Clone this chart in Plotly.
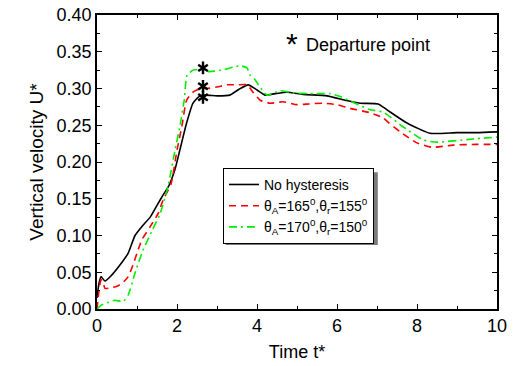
import plotly.graph_objects as go

# ---------------- data ----------------
t_black = [0, 0.05, 0.1, 0.2, 0.35, 0.52, 0.78, 0.95, 1.15, 1.33, 1.5, 1.65, 1.8, 1.95, 2.07,
           2.24, 2.4, 2.55, 2.7, 3.0, 3.32, 3.55, 3.78, 4.0, 4.2, 4.45, 4.75, 5.15, 5.75, 6.2,
           6.58, 7.03, 7.25, 7.75, 8.33, 9.0, 9.5, 10.0]
v_black = [0.015, 0.035, 0.044, 0.038, 0.045, 0.056, 0.076, 0.100, 0.114, 0.125, 0.141, 0.155,
           0.168, 0.190, 0.216, 0.253, 0.280, 0.289, 0.291, 0.290, 0.291, 0.299, 0.305, 0.298,
           0.291, 0.293, 0.295, 0.292, 0.290, 0.284, 0.280, 0.279, 0.271, 0.253, 0.239, 0.240,
           0.240, 0.241]

t_red = [0, 0.05, 0.1, 0.15, 0.2, 0.35, 0.5, 0.63, 0.78, 0.9, 1.0, 1.12, 1.33, 1.53, 1.65, 1.85,
         2.0, 2.12, 2.24, 2.4, 2.58, 2.75, 3.0, 3.25, 3.5, 3.75, 3.9, 4.08, 4.33, 4.65, 5.0, 5.3,
         5.65, 6.0, 6.33, 6.83, 7.15, 7.3, 7.58, 8.0, 8.38, 8.9, 9.5, 10.0]
v_red = [0.0, 0.025, 0.040, 0.037, 0.028, 0.029, 0.031, 0.035, 0.044, 0.060, 0.076, 0.094, 0.112,
         0.130, 0.148, 0.170, 0.216, 0.248, 0.284, 0.295, 0.300, 0.300, 0.302, 0.305, 0.305,
         0.305, 0.295, 0.284, 0.280, 0.282, 0.278, 0.279, 0.280, 0.278, 0.273, 0.267, 0.260,
         0.253, 0.241, 0.226, 0.220, 0.223, 0.224, 0.224]

t_green = [0, 0.1, 0.28, 0.45, 0.65, 0.78, 0.95, 1.15, 1.38, 1.58, 1.78, 1.95, 2.07, 2.18, 2.25,
           2.4, 2.6, 2.8, 3.0, 3.2, 3.4, 3.58, 3.75, 3.83, 3.95, 4.1, 4.25, 4.58, 4.9, 5.4, 5.83,
           6.08, 6.45, 6.83, 7.15, 7.65, 8.15, 8.5, 9.33, 10.0]
v_green = [0.0, 0.005, 0.009, 0.012, 0.010, 0.019, 0.049, 0.080, 0.107, 0.130, 0.168, 0.216,
           0.248, 0.284, 0.318, 0.325, 0.326, 0.323, 0.324, 0.326, 0.329, 0.331, 0.328, 0.318,
           0.312, 0.300, 0.291, 0.297, 0.294, 0.293, 0.293, 0.289, 0.280, 0.271, 0.268, 0.248,
           0.230, 0.227, 0.231, 0.234]

# departure points (t*, U*)
t_dep = [2.65, 2.65, 2.65]
v_dep = [0.328, 0.303, 0.288]

x_ticks = [0, 2, 4, 6, 8, 10]
y_ticks = [0.00, 0.05, 0.10, 0.15, 0.20, 0.25, 0.30, 0.35, 0.40]

names = ["No hysteresis",
         "θ<sub>A</sub>=165<sup>0</sup>,θ<sub>r</sub>=155<sup>0</sup>",
         "θ<sub>A</sub>=170<sup>0</sup>,θ<sub>r</sub>=150<sup>0</sup>"]

FONT = "Liberation Sans, Arial, sans-serif"

fig = go.Figure()
fig.add_trace(go.Scatter(x=t_black, y=v_black, mode="lines", name=names[0],
                         line=dict(color="black", width=1.6, shape="spline", smoothing=0.5)))
fig.add_trace(go.Scatter(x=t_red, y=v_red, mode="lines", name=names[1],
                         line=dict(color="#ff0000", width=1.6, dash="7px,5px",
                                   shape="spline", smoothing=0.5)))
fig.add_trace(go.Scatter(x=t_green, y=v_green, mode="lines", name=names[2],
                         line=dict(color="#00ee00", width=1.6, dash="8px,4px,2px,4px",
                                   shape="spline", smoothing=0.5)))
for sym in ["y-up-open", "y-down-open"]:
    fig.add_trace(go.Scatter(x=t_dep, y=v_dep, mode="markers", showlegend=False,
                             marker=dict(symbol=sym, size=8, color="black",
                                         line=dict(color="black", width=2.4))))

axis_common = dict(showline=True, linecolor="black", linewidth=1.6, mirror="allticks",
                   ticks="inside", ticklen=5, tickwidth=1.4, tickcolor="black",
                   showgrid=False, zeroline=False, automargin=False,
                   tickfont=dict(family=FONT, size=18, color="black"))

fig.update_xaxes(range=[0, 10], tickvals=x_ticks,
                 minor=dict(dtick=1, ticks="inside", ticklen=3, tickcolor="black", tickwidth=1.2),
                 title=dict(text="Time t*", font=dict(family=FONT, size=18, color="black"),
                            standoff=10),
                 **axis_common)
fig.update_yaxes(range=[0, 0.40], tickvals=y_ticks, tickformat=".2f",
                 minor=dict(dtick=0.025, ticks="inside", ticklen=3, tickcolor="black", tickwidth=1.2),
                 title=dict(text="Vertical velocity U*", font=dict(family=FONT, size=19, color="black"),
                            standoff=8),
                 **axis_common)

fig.add_annotation(xref="paper", yref="paper", x=0.487, y=0.93, xanchor="center", yanchor="middle",
                   text="*", showarrow=False, font=dict(family=FONT, size=30, color="black"),
                   yshift=-8)
fig.add_annotation(xref="paper", yref="paper", x=0.518, y=0.898, xanchor="left", yanchor="middle",
                   text="Departure point", showarrow=False,
                   font=dict(family=FONT, size=18, color="black"))

# legend drop shadow
fig.add_shape(type="rect", xref="paper", yref="paper", x0=0.322, x1=0.702, y0=0.218, y1=0.465,
              fillcolor="#7a7a7a", line=dict(width=0), layer="above")

fig.update_layout(
    width=514, height=366,
    margin=dict(l=97, r=17, t=15, b=57, autoexpand=False),
    plot_bgcolor="white", paper_bgcolor="white",
    showlegend=True,
    legend=dict(x=0.315, y=0.48, xanchor="left", yanchor="top",
                bgcolor="white", bordercolor="black", borderwidth=1,
                font=dict(family=FONT, size=14, color="black"),
                tracegroupgap=0, itemwidth=30),
)

fig.write_html("out.html")
